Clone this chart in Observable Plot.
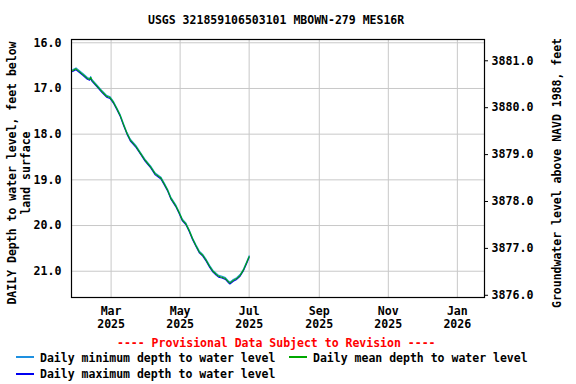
<!DOCTYPE html>
<html><head><meta charset="utf-8">
<script src="https://cdn.jsdelivr.net/npm/d3@7"></script>
<script src="https://cdn.jsdelivr.net/npm/@observablehq/plot@0.6"></script>
<style>
body{margin:0;background:#fff;}
#wrap{position:relative;width:576px;height:384px;overflow:hidden;font-family:"DejaVu Sans Mono",monospace;font-weight:bold;font-size:11.5px;color:#000;}
.t{position:absolute;white-space:pre;line-height:1;}
.rot{position:absolute;white-space:pre;text-align:center;line-height:14px;transform:translate(-50%,-50%) rotate(-90deg);}
.sw{position:absolute;height:2px;width:18px;}
#chart{position:absolute;left:0;top:0;}
</style></head><body><div id="wrap"><div id="chart"></div></div>
<script>
const title = "USGS 321859106503101 MBOWN-279 MES16R";
const yLabelLeft = "DAILY Depth to water level, feet below\nland surface";
const yLabelRight = "Groundwater level above NAVD 1988, feet";
const provisional = "---- Provisional Data Subject to Revision ----";
const seriesNames = ["Daily minimum depth to water level", "Daily mean depth to water level", "Daily maximum depth to water level"];
const seriesColors = ["#1e90e0", "#00a800", "#0000f0"];

const dates = ["2025-01-26","2025-01-29","2025-02-01","2025-02-04","2025-02-08","2025-02-10","2025-02-11","2025-02-12","2025-02-16","2025-02-21",
"2025-02-25","2025-02-28","2025-03-03","2025-03-06","2025-03-09","2025-03-12","2025-03-15","2025-03-18","2025-03-23","2025-03-27",
"2025-03-31","2025-04-05","2025-04-09","2025-04-14","2025-04-17","2025-04-20","2025-04-23","2025-04-27","2025-04-30","2025-05-03",
"2025-05-06","2025-05-09","2025-05-12","2025-05-15","2025-05-18","2025-05-21","2025-05-24","2025-05-27","2025-05-30","2025-06-02",
"2025-06-04","2025-06-07","2025-06-10","2025-06-13","2025-06-14","2025-06-17","2025-06-20","2025-06-23","2025-06-26","2025-06-29","2025-07-01"];
const meanDepth = [16.61,16.57,16.63,16.69,16.78,16.80,16.76,16.82,16.93,17.07,
17.17,17.20,17.30,17.44,17.59,17.79,17.98,18.13,18.27,18.42,
18.57,18.72,18.87,18.96,19.09,19.23,19.41,19.56,19.71,19.88,
19.96,20.11,20.29,20.44,20.58,20.65,20.76,20.89,21.00,21.07,
21.11,21.13,21.16,21.24,21.26,21.20,21.16,21.09,20.97,20.80,20.68];
const minDepth = [16.59,16.55,16.61,16.67,16.76,16.78,16.74,16.80,16.91,17.05,
17.15,17.18,17.28,17.42,17.57,17.77,17.96,18.11,18.25,18.40,
18.55,18.70,18.85,18.94,19.07,19.21,19.39,19.54,19.69,19.86,
19.94,20.09,20.27,20.42,20.56,20.63,20.74,20.87,20.98,21.05,
21.09,21.11,21.14,21.22,21.24,21.18,21.14,21.07,20.95,20.78,20.66];
const maxDepth = [16.63,16.59,16.65,16.71,16.80,16.82,16.78,16.84,16.95,17.09,
17.19,17.22,17.32,17.46,17.61,17.81,18.00,18.15,18.29,18.44,
18.59,18.74,18.89,18.98,19.11,19.25,19.43,19.58,19.73,19.90,
19.98,20.13,20.31,20.46,20.60,20.67,20.78,20.91,21.02,21.09,
21.13,21.15,21.18,21.26,21.28,21.22,21.18,21.11,20.99,20.82,20.70];

const xTickDates = ["2025-03-01","2025-05-01","2025-07-01","2025-09-01","2025-11-01","2026-01-01"];
const xTickLabels = ["Mar\n2025","May\n2025","Jul\n2025","Sep\n2025","Nov\n2025","Jan\n2026"];
const leftTicks = [16,17,18,19,20,21];
const rightTicks = [3876,3877,3878,3879,3880,3881];
const xDomain = ["2025-01-25","2026-01-25"];
const depthDomain = [15.928, 21.575];      // top, bottom of frame
const elevDomain = [3881.454, 3875.953];   // top, bottom of frame

const elevToDepth = e => depthDomain[0] + (e - elevDomain[0]) / (elevDomain[1] - elevDomain[0]) * (depthDomain[1] - depthDomain[0]);
const depthToElev = d => elevDomain[0] + (d - depthDomain[0]) / (depthDomain[1] - depthDomain[0]) * (elevDomain[1] - elevDomain[0]);

const rows = [];
const seriesArrays = [minDepth, meanDepth, maxDepth];
seriesArrays.forEach((arr, s) => arr.forEach((v, i) => rows.push({date: new Date(dates[i]), depth: v, series: seriesNames[s]})));
const drawOrder = [2, 0, 1];
const xTicks = xTickDates.map(d => new Date(d));

const plot = Plot.plot({
  width: 576, height: 335,
  marginLeft: 71, marginRight: 92, marginTop: 39, marginBottom: 38,
  style: {fontFamily: '"DejaVu Sans Mono", monospace', fontSize: "11.6px", fontWeight: "bold", color: "#000", background: "transparent"},
  x: {type: "utc", domain: xDomain.map(d => new Date(d))},
  y: {domain: depthDomain, reverse: false, range: [39, 297]},
  marks: [
    Plot.gridX(xTicks, {stroke: "#c8c8c8", strokeOpacity: 1}),
    Plot.gridY(leftTicks, {stroke: "#c8c8c8", strokeOpacity: 1}),
    ...drawOrder.map(s => Plot.line(rows.filter(r => r.series === seriesNames[s]), {x: "date", y: "depth", stroke: seriesColors[s], strokeWidth: 1.1})),
    Plot.frame({stroke: "#000", strokeWidth: 1.2}),
    Plot.axisX(xTicks, {tickSize: 0, tickPadding: 8, lineHeight: 1.15, label: null, tickFormat: d => xTickLabels[xTicks.findIndex(t => +t === +d)], fill: "#000"}),
    Plot.axisY(leftTicks, {anchor: "left", tickSize: 0, tickPadding: 10, label: null, tickFormat: d => d.toFixed(1), fill: "#000"}),
    Plot.axisY(rightTicks.map(elevToDepth), {anchor: "right", tickSize: 3, tickPadding: 4, label: null, tickFormat: d => depthToElev(d).toFixed(1), fill: "#000"})
  ]
});
document.getElementById("chart").appendChild(plot);

const wrap = document.getElementById("wrap");
function addText(txt, left, top, color) {
  const el = document.createElement("div");
  el.className = "t"; el.textContent = txt; el.style.left = left + "px"; el.style.top = top + "px";
  if (color) el.style.color = color;
  wrap.appendChild(el); return el;
}
function addRot(txt, cx, cy) {
  const el = document.createElement("div");
  el.className = "rot"; el.textContent = txt; el.style.left = cx + "px"; el.style.top = cy + "px";
  wrap.appendChild(el);
}
function addSwatch(left, top, color) {
  const el = document.createElement("div");
  el.className = "sw"; el.style.left = left + "px"; el.style.top = top + "px"; el.style.backgroundColor = color;
  wrap.appendChild(el);
}
addText(title, 148, 15);
addRot(yLabelLeft, 19, 173);
addRot(yLabelRight, 557, 173);
addText(provisional, 117, 338, "#ff0000");
addSwatch(16, 356, seriesColors[0]); addText(seriesNames[0], 40, 353);
addSwatch(289, 356, seriesColors[1]); addText(seriesNames[1], 313, 353);
addSwatch(16, 373, seriesColors[2]); addText(seriesNames[2], 40, 369);
</script>
</body></html>
